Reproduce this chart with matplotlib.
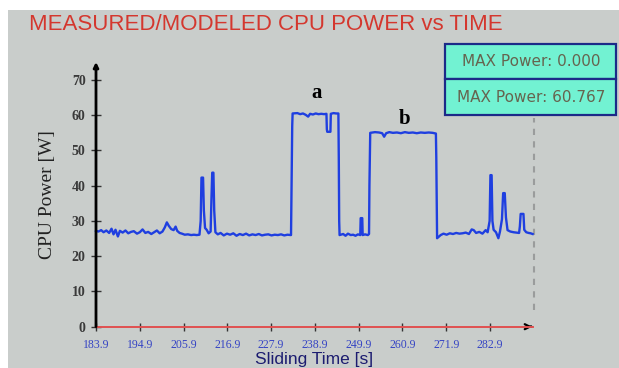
import matplotlib
matplotlib.use("Agg")
import matplotlib.pyplot as plt
from matplotlib.patches import Rectangle

# ---- data ----
time_s = [183.9, 184.5, 185.2, 185.8, 186.5, 187.2, 187.8, 188.3, 188.8, 189.4,
          189.9, 190.6, 191.3, 192.0, 192.7, 193.4, 194.2, 194.9, 195.6, 196.3,
          197.0, 197.8, 198.5, 199.2, 199.9, 200.6, 201.2, 201.7, 202.2, 202.8,
          203.4, 203.9, 204.3, 204.9, 205.5, 206.2, 207.0, 207.8, 208.5, 209.2,
          209.9, 210.2, 210.4, 210.8, 211.0, 211.3, 211.7, 212.2, 212.7, 212.9,
          213.1, 213.4, 213.6, 213.9, 214.5, 215.2, 216.0, 216.8, 217.6, 218.4,
          219.2, 220.0, 220.8, 221.6, 222.4, 223.2, 224.0, 224.8, 225.6, 226.4,
          227.2, 228.0, 228.8, 229.6, 230.4, 231.2, 232.0, 232.9, 233.0, 233.1,
          233.2, 233.3, 234.5, 235.2, 235.9, 236.6, 237.2, 237.7, 238.4, 239.1,
          239.8, 240.5, 241.2, 241.8, 241.9, 242.0, 242.8, 242.9, 243.6, 244.2,
          244.8, 244.9, 245.0, 245.1, 246.0, 246.6, 247.2, 247.9, 248.5, 249.1,
          249.7, 250.3, 250.4, 250.8, 250.9, 251.5, 252.2, 252.5, 252.6, 252.7,
          252.8, 254.0, 255.0, 255.8, 256.3, 256.8, 257.6, 258.5, 259.5, 260.5,
          261.5, 262.5, 263.5, 264.5, 265.5, 266.5, 267.5, 268.5, 269.3, 269.4,
          269.5, 269.6, 270.5, 271.2, 272.0, 272.8, 273.6, 274.4, 275.2, 276.0,
          276.8, 277.6, 278.3, 278.8, 279.4, 280.2, 281.0, 281.8, 282.3, 282.8,
          283.0, 283.3, 283.5, 283.8, 284.4, 285.0, 285.4, 285.9, 286.2, 286.6,
          286.9, 287.3, 288.0, 288.8, 289.5, 290.2, 290.4, 290.6, 291.3, 291.5,
          292.0, 292.6, 293.1, 293.6]
power_w = [27.2, 27.0, 27.4, 26.8, 27.3, 26.6, 27.8, 26.2, 27.5, 25.6,
           27.2, 26.7, 27.3, 26.5, 26.9, 27.1, 26.4, 26.8, 27.6, 26.6,
           26.9, 26.3, 26.8, 27.3, 26.5, 27.0, 28.2, 29.6, 28.6, 27.7,
           27.4, 28.4, 27.2, 26.6, 26.4, 26.1, 26.2, 26.0, 26.1, 26.0,
           26.1, 30.0, 42.3, 42.3, 33.0, 28.0, 27.5, 26.5, 27.0, 36.0,
           43.7, 43.7, 33.0, 26.8, 26.2, 26.6, 25.9, 26.4, 26.1, 26.5,
           25.8, 26.3, 26.0, 26.4, 25.9, 26.2, 26.0, 26.3, 25.9, 26.1,
           26.2, 25.9, 26.1, 26.0, 26.2, 25.9, 26.1, 26.0, 36.0, 48.0,
           57.0, 60.5, 60.6, 60.3, 60.5, 60.1, 59.6, 60.4, 60.2, 60.5,
           60.3, 60.4, 60.3, 60.4, 56.0, 55.3, 55.3, 60.4, 60.6, 60.5,
           60.5, 48.0, 30.0, 26.0, 26.3, 25.8, 26.4, 26.0, 26.1, 25.8,
           26.2, 26.0, 30.8, 30.8, 26.0, 26.2, 26.0, 26.3, 40.0, 47.0,
           55.0, 55.2, 55.1, 54.9, 53.9, 54.9, 55.2, 55.0, 55.1, 54.9,
           55.2, 55.0, 55.1, 54.9, 55.1, 55.0, 55.1, 55.0, 54.8, 48.0,
           35.0, 25.1, 26.0, 26.4, 26.1, 26.5, 26.3, 26.6, 26.4, 26.5,
           26.7, 26.3, 27.6, 27.4, 26.6, 26.9, 26.4, 27.4, 26.8, 30.0,
           43.0, 43.0, 30.0, 27.5, 26.8, 25.1, 27.0, 30.5, 37.9, 37.9,
           31.0, 27.4, 27.0, 26.8, 26.7, 26.6, 28.5, 32.0, 32.0, 27.5,
           26.8, 26.6, 26.5, 26.3]

x_ticks = [183.9, 194.9, 205.9, 216.9, 227.9, 238.9, 249.9, 260.9, 271.9, 282.9]
x_tick_labels = ["183.9", "194.9", "205.9", "216.9", "227.9", "238.9",
                 "249.9", "260.9", "271.9", "282.9"]
y_ticks = [0, 10, 20, 30, 40, 50, 60, 70]
box_texts = ["MAX Power: 0.000", "MAX Power: 60.767"]
annotations = [("a", 239.2, 66.3), ("b", 261.3, 59.0)]

W, H = 619, 368
fig = plt.figure(figsize=(W / 100, H / 100), dpi=100)
fig.patch.set_facecolor("white")

# gray panel
fig.patches.append(Rectangle((8 / W, 0), 1, (H - 10) / H, transform=fig.transFigure,
                             facecolor="#c9cdcb", edgecolor="none", zorder=-5))

fig.text(266 / W, 1 - 25 / H, "MEASURED/MODELED CPU POWER vs TIME", color="#d4372e",
         fontsize=16, family="Liberation Sans", ha="center", va="center")

# axes
x0, x1 = 96, 535
y0, y1 = 326.7, 62
ax = fig.add_axes([x0 / W, (H - y0) / H, (x1 - x0) / W, (y0 - y1) / H])
ax.set_facecolor("none")
ax.set_xlim(183.9, 294.2)
ax.set_ylim(0, 75.1)
for s in ax.spines.values():
    s.set_visible(False)

# dashed vertical line
ax.plot([294.0, 294.0], [4.7, 59.2], color="#9a9c9c", lw=1.5, ls=(0, (3, 3)),
        clip_on=False)

ax.plot(time_s, power_w, color="#1f3fe0", lw=1.7, clip_on=False, zorder=3)

# axis lines
ax.plot([183.9, 293.8], [0, 0], color="#e05050", lw=1.4, clip_on=False, zorder=4)
ax.annotate("", xy=(294.2, 0), xytext=(292.5, 0),
            arrowprops=dict(arrowstyle="->", color="black", lw=1.6,
                            mutation_scale=9), annotation_clip=False)
ax.annotate("", xy=(183.9, 75.1), xytext=(183.9, 0),
            arrowprops=dict(arrowstyle="-|>", color="black", lw=2.0,
                            mutation_scale=7, shrinkA=0, shrinkB=0),
            annotation_clip=False, zorder=5)

ax.set_xticks(x_ticks)
ax.set_xticklabels(x_tick_labels, color="#3544c4", family="Liberation Serif",
                   fontsize=8.5)
ax.set_yticks(y_ticks)
ax.set_yticklabels([str(v) for v in y_ticks], color="#3a3a3a",
                   family="Liberation Serif", fontsize=10, fontweight="bold")
ax.tick_params(axis="x", direction="inout", length=6, width=1.0, color="#333333",
               pad=6)
ax.tick_params(axis="y", direction="inout", length=7, width=1.0, color="#333333",
               pad=4)

ax.set_ylabel("CPU Power [W]", family="Liberation Serif", fontsize=14,
              color="#222222", labelpad=11)

fig.text(314 / W, 1 - 364 / H, "Sliding Time [s]", color="#1c1c70", fontsize=12.5,
         family="Liberation Sans", ha="center", va="baseline")

for txt, tx, ty in annotations:
    ax.text(tx, ty, txt, family="Liberation Serif", fontweight="bold", fontsize=15,
            ha="center", va="center", color="black")

# legend-like box
bx0, bx1, by0, bym, by1 = 445, 616, 44, 79, 115
for (top, bot), txt in zip([(by0, bym), (bym, by1)], box_texts):
    fig.patches.append(Rectangle((bx0 / W, 1 - bot / H), (bx1 - bx0) / W,
                                 (bot - top) / H, transform=fig.transFigure,
                                 facecolor="#72f2d2", edgecolor="#1c2a88", lw=1.6,
                                 zorder=5))
    fig.text((bx0 + bx1) / 2 / W + 1 / W, 1 - (top + bot) / 2 / H, txt,
             color="#66644f", fontsize=11, family="DejaVu Sans", ha="center",
             va="center", zorder=6)

fig.savefig("out.png", dpi=100)
